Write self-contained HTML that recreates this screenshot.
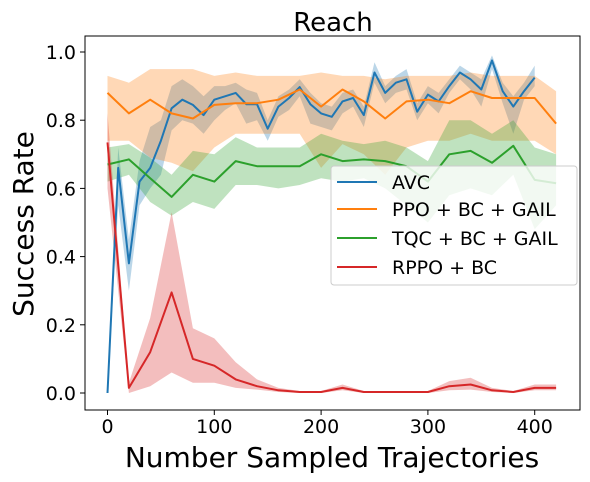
<!DOCTYPE html>
<html><head><meta charset="utf-8"><style>
body{margin:0;background:#fff}
svg{display:block;font-family:"DejaVu Sans","Liberation Sans",sans-serif}
</style></head><body>
<svg id="chart" width="590" height="482" viewBox="0 0 590 482">
<rect x="0" y="0" width="590" height="482" fill="#fff"/>
<text x="333" y="31" font-size="26" text-anchor="middle">Reach</text>
<g id="bands"></g>
<g id="lines"></g>
<rect x="85" y="36" width="495" height="374" fill="none" stroke="#000" stroke-width="1"/>
<g id="xticks"></g>
<g id="yticks"></g>
<text x="332" y="467" font-size="28" text-anchor="middle">Number Sampled Trajectories</text>
<text x="0" y="0" font-size="28" text-anchor="middle" transform="translate(33,224) rotate(-90)">Success Rate</text>
<g>
<rect x="331" y="166" width="246" height="119" rx="3" fill="#fff" fill-opacity="0.8" stroke="#ccc"/>
<g><line x1="337" y1="182" x2="377" y2="182" stroke="#1f77b4" stroke-width="2"/><text x="392" y="189" font-size="19">AVC</text></g>
<g><line x1="337" y1="209" x2="377" y2="209" stroke="#ff7f0e" stroke-width="2"/><text x="392" y="216" font-size="19">PPO + BC + GAIL</text></g>
<g><line x1="337" y1="238" x2="377" y2="238" stroke="#2ca02c" stroke-width="2"/><text x="392" y="245" font-size="19">TQC + BC + GAIL</text></g>
<g><line x1="337" y1="267" x2="377" y2="267" stroke="#d62728" stroke-width="2"/><text x="392" y="274" font-size="19">RPPO + BC</text></g>
</g>
</svg>
<script>
const avcX=[0,10,20,30,40,50,60,70,80,90,100,110,120,130,140,150,160,170,180,190,200,210,220,230,240,250,260,270,280,290,300,310,320,330,340,350,360,370,380,390,400];
const avcY=[0,0.66,0.38,0.62,0.66,0.74,0.835,0.86,0.845,0.815,0.86,0.87,0.88,0.847,0.847,0.775,0.84,0.865,0.897,0.847,0.82,0.81,0.855,0.865,0.815,0.94,0.88,0.91,0.92,0.825,0.875,0.855,0.9,0.94,0.92,0.89,0.975,0.885,0.84,0.885,0.925];
const avcLo=[0,0.55,0.3,0.55,0.6,0.64,0.77,0.8,0.79,0.76,0.8,0.83,0.85,0.79,0.8,0.74,0.81,0.83,0.87,0.79,0.78,0.77,0.82,0.84,0.78,0.91,0.85,0.88,0.89,0.8,0.85,0.82,0.88,0.92,0.89,0.84,0.95,0.85,0.76,0.86,0.9];
const avcHi=[0,0.72,0.45,0.68,0.78,0.8,0.9,0.92,0.9,0.87,0.9,0.9,0.91,0.89,0.88,0.8,0.87,0.89,0.92,0.88,0.85,0.84,0.88,0.89,0.84,0.97,0.9,0.93,0.95,0.85,0.9,0.88,0.92,0.96,0.94,0.92,0.99,0.91,0.87,0.91,0.96];
const x20=[0,20,40,60,80,100,120,140,160,180,200,220,240,260,280,300,320,340,360,380,400,420];
const ppoY=[0.88,0.82,0.86,0.82,0.805,0.845,0.85,0.85,0.86,0.89,0.84,0.89,0.855,0.805,0.855,0.86,0.85,0.885,0.865,0.865,0.865,0.79];
const ppoLo=[0.74,0.74,0.69,0.675,0.65,0.72,0.76,0.76,0.76,0.76,0.66,0.73,0.7,0.64,0.72,0.74,0.74,0.76,0.74,0.74,0.74,0.7];
const ppoHi=[0.93,0.91,0.95,0.95,0.95,0.93,0.94,0.93,0.93,0.93,0.94,0.93,0.93,0.92,0.93,0.93,0.93,0.94,0.93,0.93,0.93,0.885];
const tqcY=[0.67,0.685,0.63,0.575,0.64,0.62,0.68,0.665,0.665,0.665,0.70,0.68,0.685,0.68,0.665,0.62,0.70,0.71,0.675,0.725,0.625,0.615];
const tqcLo=[0.62,0.64,0.56,0.52,0.56,0.54,0.61,0.61,0.6,0.61,0.63,0.62,0.63,0.6,0.55,0.5,0.58,0.6,0.58,0.64,0.48,0.55];
const tqcHi=[0.72,0.73,0.69,0.64,0.71,0.7,0.75,0.72,0.72,0.72,0.76,0.74,0.73,0.74,0.72,0.68,0.8,0.8,0.76,0.8,0.72,0.7];
const rppoY=[0.735,0.015,0.12,0.295,0.1,0.08,0.04,0.02,0.008,0.003,0.003,0.015,0.003,0.003,0.003,0.003,0.02,0.025,0.008,0.003,0.015,0.015];
const rppoLo=[0.6,0,0.02,0.06,0.03,0.03,0.015,0.01,0.003,0,0,0.008,0,0,0,0,0.008,0.01,0.003,0,0.008,0.008];
const rppoHi=[0.82,0.03,0.22,0.53,0.19,0.16,0.09,0.04,0.015,0.006,0.006,0.025,0.006,0.006,0.006,0.006,0.035,0.045,0.015,0.006,0.025,0.025];
const xTicks=[0,100,200,300,400];
const yTicks=[0,0.2,0.4,0.6,0.8,1.0];
const yTickLabels=["0.0","0.2","0.4","0.6","0.8","1.0"];

const NS="http://www.w3.org/2000/svg";
function sx(v){return 107.5+v*1.068;}
function sy(v){return 393-v*341;}
function mk(tag,attrs,parent){const e=document.createElementNS(NS,tag);for(const k in attrs)e.setAttribute(k,attrs[k]);parent.appendChild(e);return e;}
const bands=document.getElementById('bands'),lines=document.getElementById('lines');
function band(xs,lo,hi,color,name){
  let d=xs.map((x,i)=>(i?'L':'M')+sx(x).toFixed(1)+','+sy(hi[i]).toFixed(1)).join('');
  for(let i=xs.length-1;i>=0;i--)d+='L'+sx(xs[i]).toFixed(1)+','+sy(lo[i]).toFixed(1);
  const p=mk('path',{d:d+'Z',fill:color,'fill-opacity':0.3,stroke:'none'},bands);
  
  
}
function line(xs,ys,color,name){
  const d=xs.map((x,i)=>(i?'L':'M')+sx(x).toFixed(1)+','+sy(ys[i]).toFixed(1)).join('');
  const p=mk('path',{d:d,fill:'none',stroke:color,'stroke-width':2,'stroke-linejoin':'round'},lines);
  
  
}
band(avcX,avcLo,avcHi,'#1f77b4','avc-band');
band(x20,ppoLo,ppoHi,'#ff7f0e','ppo-band');
band(x20,tqcLo,tqcHi,'#2ca02c','tqc-band');
band(x20,rppoLo,rppoHi,'#d62728','rppo-band');
line(avcX,avcY,'#1f77b4','avc-line');
line(x20,ppoY,'#ff7f0e','ppo-line');
line(x20,tqcY,'#2ca02c','tqc-line');
line(x20,rppoY,'#d62728','rppo-line');
const xg=document.getElementById('xticks'),yg=document.getElementById('yticks');
xTicks.forEach(v=>{
  const l=mk('line',{x1:sx(v),x2:sx(v),y1:410,y2:415,stroke:'#000'},xg);
  
  
  const t=mk('text',{x:sx(v),y:433,'font-size':19,'text-anchor':'middle'},xg);
  t.textContent=v;
  
  
});
yTicks.forEach((v,i)=>{
  const l=mk('line',{x1:80,x2:85,y1:sy(v),y2:sy(v),stroke:'#000'},yg);
  
  
  const t=mk('text',{x:76,y:sy(v)+7,'font-size':19,'text-anchor':'end'},yg);
  t.textContent=yTickLabels[i];
  
  
});
</script>
</body></html>
